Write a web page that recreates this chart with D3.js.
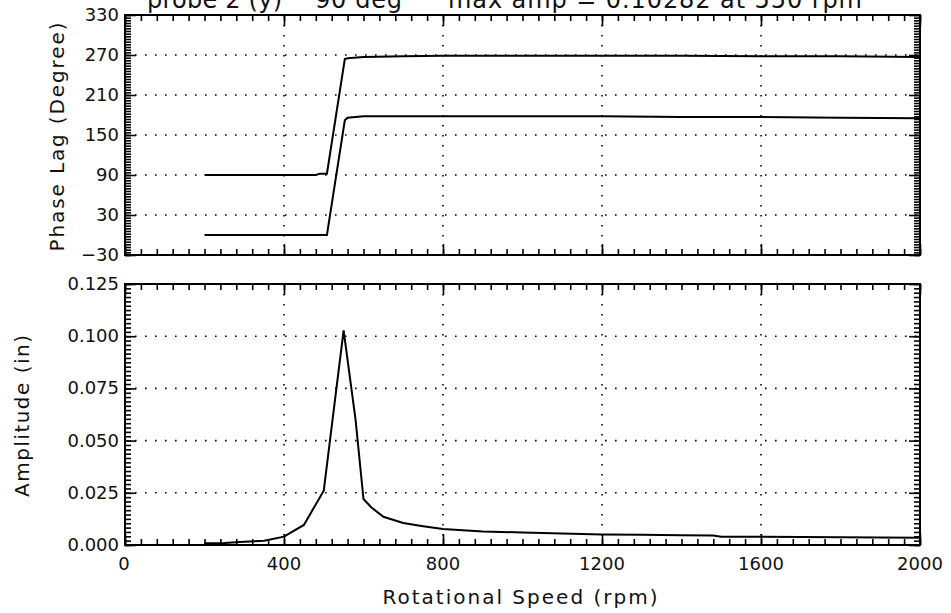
<!DOCTYPE html>
<html>
<head>
<meta charset="utf-8">
<title>Phase lag and amplitude vs rotational speed</title>
<script src="https://d3js.org/d3.v7.min.js"></script>
<style>
  body { margin: 0; background: #fff; }
  svg text { font-family: "DejaVu Sans", sans-serif; fill: #111; }
</style>
</head>
<body>
<div id="chart"></div>
<script>
// data
const phaseRpm = [200, 300, 400, 480, 490, 508, 553, 560, 600, 700, 800, 1000, 1200, 1400, 1600, 1800, 2000];
const phaseUpper = [90, 90, 90, 90, 92, 92, 264, 265, 267, 268, 269, 269, 269, 269, 268, 268, 267];
const phaseLower = [0, 0, 0, 0, 0, 0, 172, 176, 178, 178, 178, 178, 178, 177, 177, 176, 175];

const ampRpm = [200, 250, 300, 350, 400, 450, 500, 550, 580, 600, 620, 650, 700, 750, 800, 900, 1000, 1100, 1200, 1300, 1400, 1480, 1500, 1600, 1800, 2000];
const ampVals = [0.0008, 0.001, 0.0015, 0.002, 0.004, 0.0096, 0.026, 0.10282, 0.060, 0.022, 0.018, 0.0135, 0.0105, 0.009, 0.0077, 0.0065, 0.006, 0.0055, 0.005, 0.0049, 0.0047, 0.0045, 0.004, 0.0039, 0.0037, 0.0035];

const xTicks = [0, 400, 800, 1200, 1600, 2000];
const phaseTicks = [-30, 30, 90, 150, 210, 270, 330];
const ampTicks = [0, 0.025, 0.05, 0.075, 0.1, 0.125];

const W = 951, H = 613;
const left = 125, right = 920;
const svg = d3.select("#chart").append("svg")
  .attr("width", W).attr("height", H);

const x = d3.scaleLinear().domain([0, 2000]).range([left, right]);
const yP = d3.scaleLinear().domain([-30, 330]).range([255, 15]);
const yA = d3.scaleLinear().domain([0, 0.125]).range([545, 284]);

const xMinor = d3.range(0, 2001, 40);

function panel(y, majors, minors, fmt) {
  const [bot, top] = y.range();
  const g = svg.append("g");

  // dotted grid
  g.selectAll(".gx").data(xTicks.slice(1, -1)).join("line")
    .attr("x1", d => x(d)).attr("x2", d => x(d))
    .attr("y1", top).attr("y2", bot)
    .attr("stroke", "#000").attr("stroke-width", 1.6)
    .attr("stroke-dasharray", "1.6,8.4");
  g.selectAll(".gy").data(majors.slice(1, -1)).join("line")
    .attr("x1", left).attr("x2", right)
    .attr("y1", d => y(d)).attr("y2", d => y(d))
    .attr("stroke", "#000").attr("stroke-width", 1.6)
    .attr("stroke-dasharray", "1.6,8.4");

  // ticks pointing inward
  const tick = (axis, tr, vals, len) => {
    const a = g.append("g").attr("transform", tr)
      .call(axis.tickValues(vals).tickSize(-len).tickFormat(""));
    a.select(".domain").remove();
    a.selectAll("line").attr("stroke", "#000").attr("stroke-width", 1.6);
  };
  tick(d3.axisBottom(x), `translate(0,${bot})`, xMinor, 6);
  tick(d3.axisBottom(x), `translate(0,${bot})`, xTicks, 11);
  tick(d3.axisTop(x), `translate(0,${top})`, xMinor, 6);
  tick(d3.axisTop(x), `translate(0,${top})`, xTicks, 11);
  tick(d3.axisLeft(y), `translate(${left},0)`, minors, 6);
  tick(d3.axisLeft(y), `translate(${left},0)`, majors, 11);
  tick(d3.axisRight(y), `translate(${right},0)`, minors, 6);
  tick(d3.axisRight(y), `translate(${right},0)`, majors, 11);

  // frame
  g.append("rect")
    .attr("x", left).attr("y", top)
    .attr("width", right - left).attr("height", bot - top)
    .attr("fill", "none").attr("stroke", "#000").attr("stroke-width", 2);

  // y labels
  g.selectAll(".yl").data(majors).join("text")
    .attr("x", left - 6).attr("y", d => y(d) + 6)
    .attr("text-anchor", "end").attr("font-size", 18)
    .text(fmt);
  return g;
}

const phaseMinor = d3.range(-30, 331, 4);
const ampMinor = d3.range(0, 0.1251, 0.025 / 12);

const gP = panel(yP, phaseTicks, phaseMinor, d => d < 0 ? "\u221230" : d);
const gA = panel(yA, ampTicks, ampMinor, d => d3.format(".3f")(d));

const phaseLine = key => d3.line()
  .x((d, i) => x(phaseRpm[i]))
  .y(d => yP(d));
gP.append("path").datum(phaseUpper).attr("d", phaseLine())
  .attr("fill", "none").attr("stroke", "#000").attr("stroke-width", 2);
gP.append("path").datum(phaseLower).attr("d", phaseLine())
  .attr("fill", "none").attr("stroke", "#000").attr("stroke-width", 2);

gA.append("path").datum(ampVals)
  .attr("d", d3.line().x((d, i) => x(ampRpm[i])).y(d => yA(d)))
  .attr("fill", "none").attr("stroke", "#000").attr("stroke-width", 2);

// x tick labels
svg.selectAll(".xl").data(xTicks).join("text")
  .attr("x", d => x(d) - (d === 0 ? 1 : 0)).attr("y", 570)
  .attr("text-anchor", "middle").attr("font-size", 18)
  .text(d => d);

// axis titles
svg.append("text")
  .attr("x", 520).attr("y", 604)
  .attr("text-anchor", "middle").attr("font-size", 20)
  .attr("textLength", 275)
  .text("Rotational Speed (rpm)");
svg.append("text")
  .attr("transform", "translate(64,137) rotate(-90)")
  .attr("text-anchor", "middle").attr("font-size", 20)
  .attr("textLength", 229)
  .text("Phase Lag (Degree)");
svg.append("text")
  .attr("transform", "translate(29,416) rotate(-90)")
  .attr("text-anchor", "middle").attr("font-size", 20)
  .attr("textLength", 162)
  .text("Amplitude (in)");

// title, clipped at the top edge
svg.append("text").attr("x", 147).attr("y", 8).attr("font-size", 24)
  .attr("textLength", 135).text("probe 2 (y)");
svg.append("text").attr("x", 315).attr("y", 8).attr("font-size", 24)
  .attr("textLength", 87).text("90 deg");
svg.append("text").attr("x", 448).attr("y", 8).attr("font-size", 24)
  .attr("textLength", 414).text("max amp = 0.10282 at 550 rpm");
</script>
</body>
</html>
